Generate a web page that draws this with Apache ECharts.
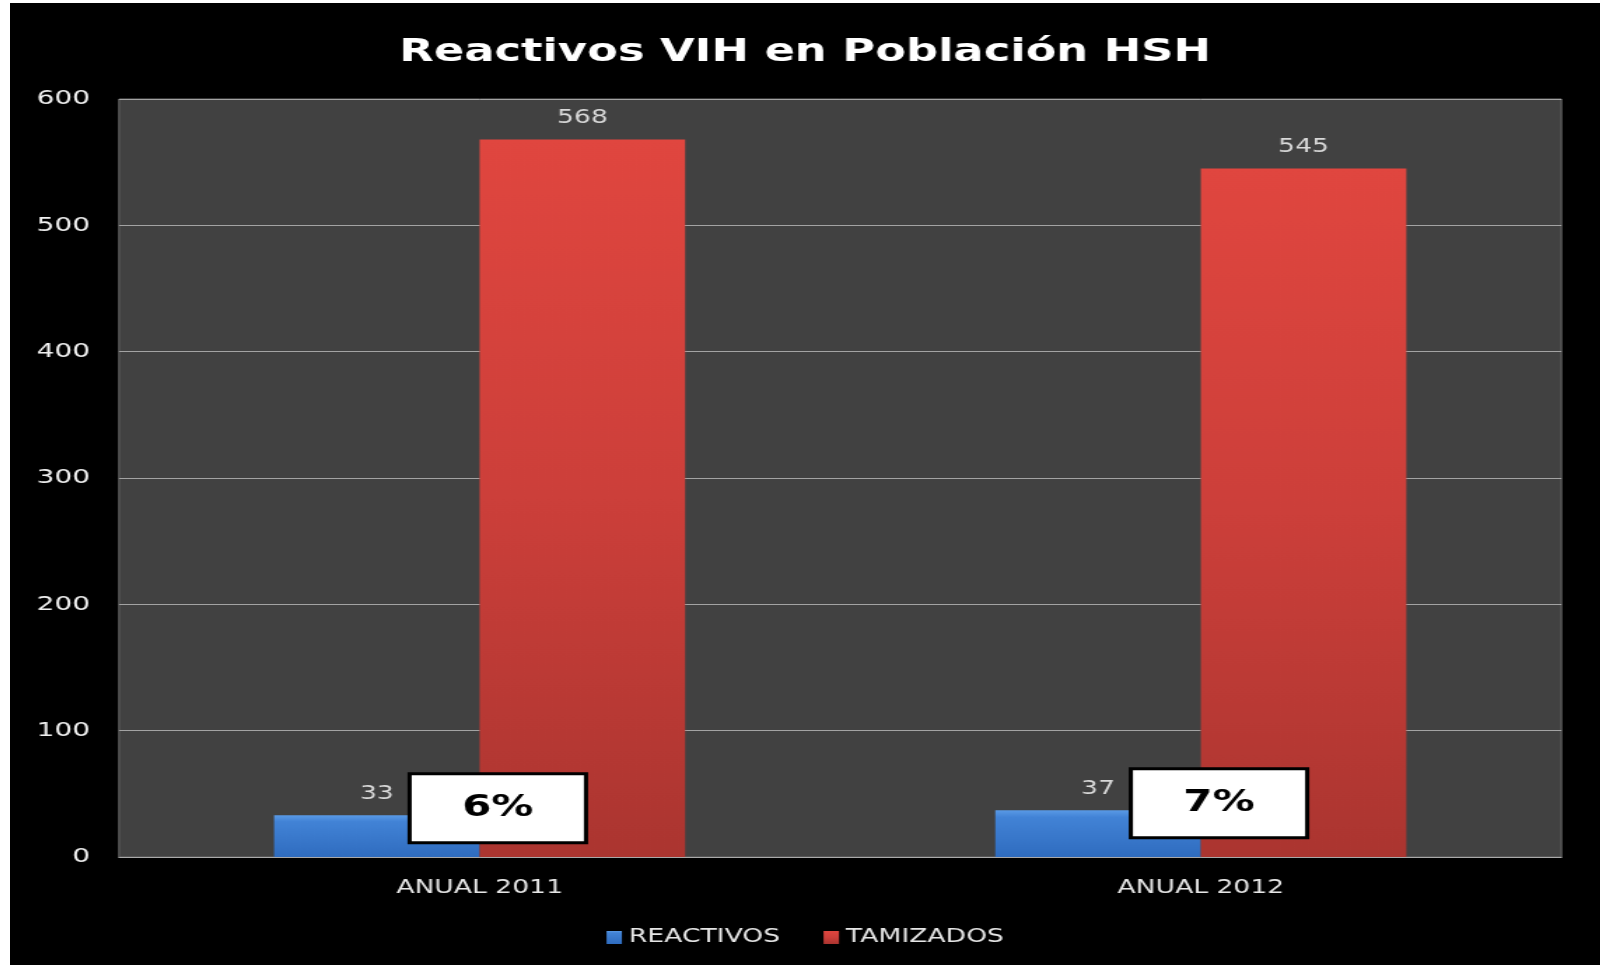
<!DOCTYPE html>
<html>
<head>
<meta charset="utf-8">
<title>Reactivos VIH en Población HSH</title>
<script src="https://cdn.jsdelivr.net/npm/echarts@6/dist/echarts.min.js"></script>
<style>
  html, body { margin: 0; padding: 0; background: #fff; width: 1600px; height: 965px; overflow: hidden; }
  #wrap { position: absolute; left: 10px; top: 3px; width: 1590px; height: 962px; background: #000; overflow: hidden; }
  #chart { height: 962px; transform-origin: 0 0; }
</style>
</head>
<body>
<div id="wrap"><div id="chart"></div></div>
<script>
// data
const categories = ['ANUAL 2011', 'ANUAL 2012']
const reactivos = [33, 37]
const tamizados = [568, 545]
const seriesNames = ['REACTIVOS', 'TAMIZADOS']
const yMin = 0, yMax = 600, yStep = 100

// the original picture is stretched sideways, so draw narrower and stretch back
const S = 1.4
const el = document.getElementById('chart')
el.style.width = (1590 / S) + 'px'
el.style.transform = `scaleX(${S})`

const font = 'DejaVu Sans'
const chart = echarts.init(el, null, { renderer: 'canvas' })

const option = {
  backgroundColor: '#000',
  animation: false,
  title: {
    text: 'Reactivos VIH en Población HSH',
    left: 'center', top: 34, padding: 0,
    textStyle: { color: '#fff', fontFamily: font, fontWeight: 'bold', fontSize: 32 }
  },
  legend: {
    data: seriesNames,
    left: 'center', top: 925, padding: 0,
    itemWidth: 11, itemHeight: 13, itemGap: 31,
    icon: 'rect',
    textStyle: { color: '#e6e6e6', fontFamily: font, fontSize: 19 }
  },
  grid: {
    left: 109 / S, right: 39 / S, top: 96, bottom: 108,
    show: true, backgroundColor: '#414141', borderColor: '#6b6b6b', borderWidth: 1
  },
  xAxis: {
    type: 'category', data: categories,
    axisLine: { lineStyle: { color: '#a9a9a9', width: 1 } },
    axisTick: { show: false },
    axisLabel: { color: '#e6e6e6', fontFamily: font, fontSize: 19, margin: 22 }
  },
  yAxis: {
    type: 'value', min: yMin, max: yMax, interval: yStep,
    axisLine: { show: false }, axisTick: { show: false },
    axisLabel: { color: '#f0f0f0', fontFamily: font, fontSize: 20, margin: 29 / S },
    splitLine: { lineStyle: { color: '#a3a3a3', width: 1 } }
  },
  series: [
    {
      name: seriesNames[0], type: 'bar', data: reactivos,
      barGap: '0%', barCategoryGap: '43%',
      itemStyle: { color: new echarts.graphic.LinearGradient(0, 0, 0, 1, [
        { offset: 0, color: '#5a9ae6' }, { offset: 0.15, color: '#4283d6' }, { offset: 1, color: '#2f6cbf' }]) },
      label: { show: true, position: 'top', distance: 12, color: '#d9d9d9', fontFamily: font, fontSize: 19 }
    },
    {
      name: seriesNames[1], type: 'bar', data: tamizados,
      itemStyle: { color: new echarts.graphic.LinearGradient(0, 0, 0, 1, [
        { offset: 0, color: '#e0463f' }, { offset: 0.5, color: '#cc3f3a' }, { offset: 1, color: '#ab3530' }]) },
      label: { show: true, position: 'top', distance: 12, color: '#d9d9d9', fontFamily: font, fontSize: 19 }
    },
    {
      // white boxes with the share of reactive results
      name: 'pct', type: 'scatter', silent: true, z: 10,
      symbolSize: 1, itemStyle: { color: 'rgba(0,0,0,0)', opacity: 1 },
      data: categories.map((c, i) => [c, reactivos[i]]),
      label: {
        show: true, position: 'inside', offset: [13, -7], opacity: 1,
        formatter: p => Math.round(reactivos[p.dataIndex] / tamizados[p.dataIndex] * 100) + '%',
        color: '#000', fontFamily: font, fontWeight: 'bold', fontSize: 30,
        backgroundColor: '#fff', borderColor: '#000', borderWidth: 3,
        width: 123, height: 66, lineHeight: 66, align: 'center', verticalAlign: 'middle', padding: 0
      }
    }
  ]
}
chart.setOption(option)
</script>
</body>
</html>
